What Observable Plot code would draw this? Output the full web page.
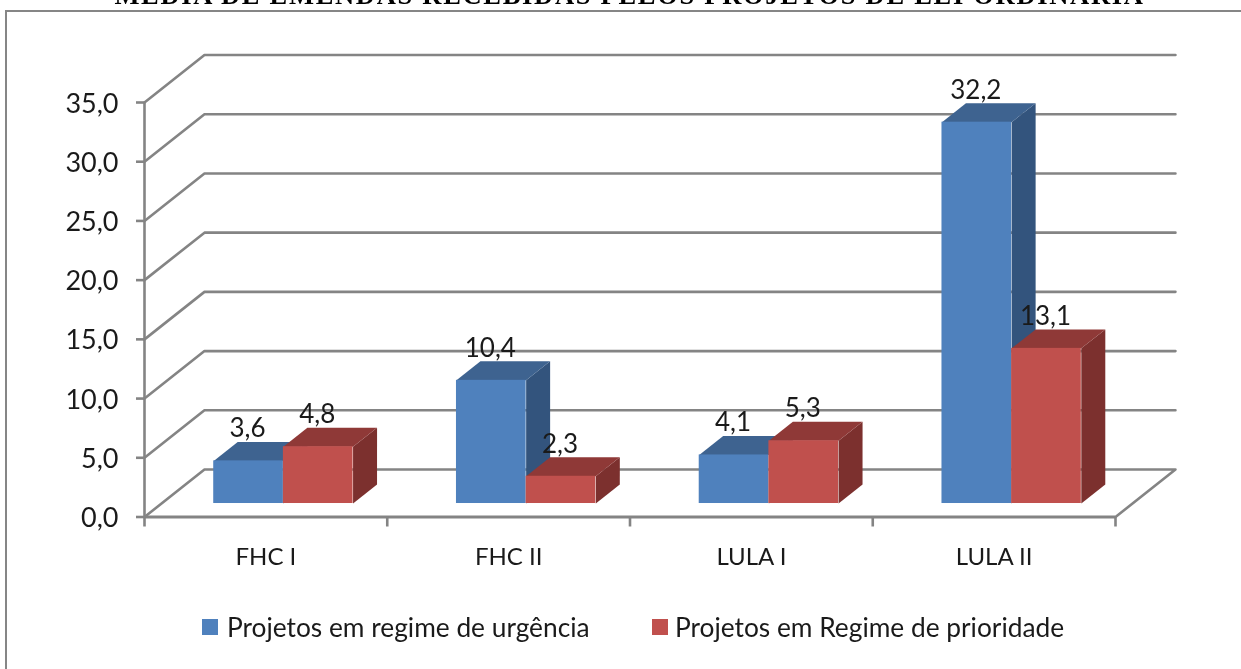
<!DOCTYPE html>
<html lang="pt">
<head>
<meta charset="utf-8">
<script src="https://cdn.jsdelivr.net/npm/d3@7"></script>
<script src="https://cdn.jsdelivr.net/npm/@observablehq/plot@0.6"></script>
<style>
  html, body { margin: 0; padding: 0; background: #fff; }
  #page { position: relative; width: 1241px; height: 669px; overflow: hidden; background: #fff; font-family: Lato, sans-serif; color: #1a1a1a; }
  #frame { position: absolute; left: 5px; top: 9.5px; width: 1300px; height: 700px; border: 2.5px solid #868686; box-sizing: border-box; filter: blur(0.4px); }
  #title { position: absolute; left: 0; right: 0; top: -20.5px; margin: 0; text-align: center; font: bold 26.5px "Liberation Serif", serif; letter-spacing: 1.7px; color: #000; white-space: nowrap; transform: translateX(9px); filter: blur(0.4px); }
  #chart { position: absolute; left: 0; top: 0; filter: blur(0.5px); }
  #legend { position: absolute; top: 611px; left: 0; height: 32px; font-size: 26.3px; line-height: 32px; filter: blur(0.5px); }
  #legend span { position: absolute; white-space: nowrap; }
  #legend i { position: absolute; width: 16px; height: 16px; top: 8px; }
</style>
</head>
<body>
<div id="page">
  <div id="frame"></div>
  <h1 id="title">MÉDIA DE EMENDAS RECEBIDAS PELOS PROJETOS DE LEI ORDINÁRIA</h1>
  <div id="chart"></div>
  <div id="legend"></div>
</div>
<script>
const categories = ["FHC I", "FHC II", "LULA I", "LULA II"];
const seriesNames = ["Projetos em regime de urgência", "Projetos em Regime de prioridade"];
const urgencia = [3.6, 10.4, 4.1, 32.2];
const prioridade = [4.8, 2.3, 5.3, 13.1];
const yTicks = [0, 5, 10, 15, 20, 25, 30, 35];

// Oblique projection: one unit of depth, in category units and value units
const depthX = 0.247, depthY = 4.01;
const barNear = 0.284, barFar = 0.684, barWidth = 0.287, barShift = 0.002;
const comma = (v) => v.toFixed(1).replace(".", ",");
const P = (c, v, d) => ({x: c + d * depthX, y: v + d * depthY});

const grey = "#848484";
const styles = [
  {front: "#4F81BD", top: "#3E6390", side: "#33547D", values: urgencia, start: 0.5 + barShift - barWidth},
  {front: "#C0504D", top: "#8F3937", side: "#7C302E", values: prioridade, start: 0.5 + barShift}
];

const grid = yTicks.flatMap((v) => {
  const pts = [P(0, v, 0), P(0, v, 1), P(4, v, 1)];
  if (v === 0) pts.push(P(4, v, 0));
  return pts.map((p) => ({...p, v}));
});

const marks = [
  Plot.line(grid, {x: "x", y: "y", z: "v", stroke: grey, strokeWidth: 2.6, curve: "linear"}),
  Plot.ruleX([0], {y1: 0, y2: 35, stroke: grey, strokeWidth: 2.6}),
  Plot.ruleY([0], {x1: 0, x2: 4, stroke: grey, strokeWidth: 3}),
  Plot.axisY({ticks: yTicks, tickSize: 8, stroke: grey, strokeWidth: 2.6, tickFormat: () => "", label: null}),
  Plot.axisY({ticks: yTicks, tickFormat: comma, tickSize: 0, tickPadding: 26, dy: 1.5, fontSize: 27, label: null, fill: "#1a1a1a", stroke: "none"}),
  Plot.axisX({ticks: [0, 1, 2, 3, 4], tickSize: 10, stroke: grey, strokeWidth: 2.6, tickFormat: () => "", label: null}),
  Plot.axisX({ticks: [0.5, 1.5, 2.5, 3.5], tickSize: 0, tickPadding: 31, tickFormat: (d) => categories[Math.floor(d)], fontSize: 24, label: null, fill: "#1a1a1a", stroke: "none"})
];

for (const s of styles) {
  const bars = s.values.map((value, i) => ({i, value, x1: i + s.start, x2: i + s.start + barWidth}));
  const side = bars.flatMap((b) => [
    P(b.x2, 0, barNear), P(b.x2, 0, barFar), P(b.x2, b.value, barFar), P(b.x2, b.value, barNear)
  ].map((p) => ({...p, i: b.i})));
  const top = bars.flatMap((b) => [
    P(b.x1, b.value, barNear), P(b.x1, b.value, barFar), P(b.x2, b.value, barFar), P(b.x2, b.value, barNear)
  ].map((p) => ({...p, i: b.i})));
  marks.push(
    Plot.line(side, {x: "x", y: "y", z: "i", fill: s.side, stroke: "none"}),
    Plot.line(top, {x: "x", y: "y", z: "i", fill: s.top, stroke: "none"}),
    Plot.rect(bars, {
      x1: (b) => P(b.x1, 0, barNear).x,
      x2: (b) => P(b.x2, 0, barNear).x,
      y1: () => P(0, 0, barNear).y,
      y2: (b) => P(0, b.value, barNear).y,
      fill: s.front
    })
  );
}
for (const s of styles) {
  marks.push(Plot.text(s.values, {
    x: (v, i) => P(i + s.start + barWidth / 2, v, barNear).x,
    y: (v) => P(0, v, barNear).y,
    text: comma,
    dy: -32,
    dx: -1,
    fontSize: 26,
    fill: "#1a1a1a"
  }));
}

const chart = Plot.plot({
  width: 1241,
  height: 669,
  marginLeft: 144,
  marginRight: 126,
  marginTop: 102,
  marginBottom: 152.5,
  style: {background: "transparent", fontFamily: "Lato, sans-serif", overflow: "visible"},
  x: {type: "linear", domain: [0, 4], axis: null},
  y: {type: "linear", domain: [0, 35], axis: null},
  marks
});
document.getElementById("chart").appendChild(chart);

const legend = document.getElementById("legend");
[[202, 227, styles[0].front], [652, 675, styles[1].front]].forEach(([sx, tx, c], k) => {
  const sw = document.createElement("i");
  sw.style.left = sx + "px"; sw.style.background = c;
  const t = document.createElement("span");
  t.style.left = tx + "px"; t.textContent = seriesNames[k];
  legend.append(sw, t);
});
</script>
</body>
</html>
